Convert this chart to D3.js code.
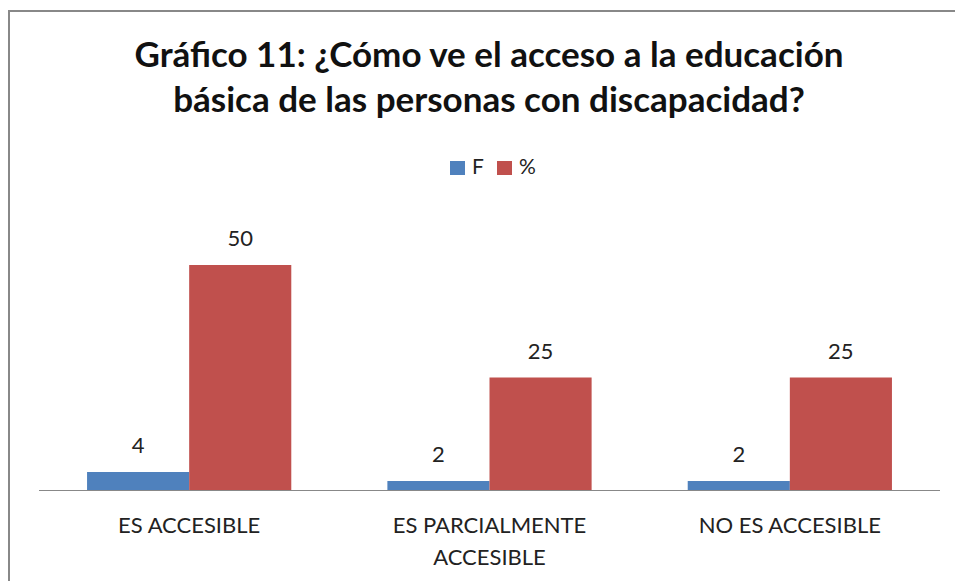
<!DOCTYPE html>
<html>
<head>
<meta charset="utf-8">
<script src="https://cdn.jsdelivr.net/npm/d3@7"></script>
<style>
  body { margin: 0; background: #fff; }
  text { font-family: Lato, "Open Sans", sans-serif; }
</style>
</head>
<body>
<script>
const categories = [["ES ACCESIBLE"], ["ES PARCIALMENTE", "ACCESIBLE"], ["NO ES ACCESIBLE"]];
const seriesNames = ["F", "%"];
const valuesF = [4, 2, 2];
const valuesPct = [50, 25, 25];
const colors = ["#4F81BD", "#C0504D"];

const svgWidth = 955, svgHeight = 581;
const baseY = 490;

const svg = d3.select("body")
    .append("svg")
    .attr("width", svgWidth)
    .attr("height", svgHeight);

// frame
svg.append("rect")
    .attr("x", 9).attr("y", 11)
    .attr("width", 960).attr("height", 600)
    .attr("fill", "#fff")
    .attr("stroke", "#888")
    .attr("stroke-width", 2);

// title
svg.append("text")
    .attr("text-anchor", "middle")
    .attr("font-size", 35)
    .attr("font-weight", "bold")
    .attr("fill", "#111")
    .selectAll("tspan")
    .data(["Gráfico 11: ¿Cómo ve el acceso a la educación", "básica de las personas con discapacidad?"])
    .enter().append("tspan")
    .attr("x", 489)
    .attr("y", (d, i) => 67 + i * 45)
    .text(d => d);

// legend
const legend = svg.append("g");
const legendX = [450, 497];
seriesNames.forEach((s, i) => {
    legend.append("rect")
        .attr("x", legendX[i]).attr("y", 161)
        .attr("width", 15).attr("height", 14)
        .attr("fill", colors[i]);
    legend.append("text")
        .attr("x", legendX[i] + 22).attr("y", 174)
        .attr("font-size", 21)
        .attr("fill", "#222")
        .text(s);
});

const xScale = d3.scaleBand()
    .domain(d3.range(categories.length))
    .range([39, 940])
    .paddingInner(0.32)
    .paddingOuter(0.16);

const xInner = d3.scaleBand()
    .domain([0, 1])
    .range([0, xScale.bandwidth()]);

const yScale = d3.scaleLinear()
    .domain([0, 60])
    .range([baseY, baseY - 270]);

const series = [valuesF, valuesPct];

series.forEach((vals, si) => {
    svg.selectAll(".bar" + si)
        .data(vals)
        .enter()
        .append("rect")
        .attr("x", (d, i) => xScale(i) + xInner(si))
        .attr("y", d => yScale(d))
        .attr("width", xInner.bandwidth())
        .attr("height", d => baseY - yScale(d))
        .attr("fill", colors[si]);

    svg.selectAll(".lbl" + si)
        .data(vals)
        .enter()
        .append("text")
        .attr("x", (d, i) => xScale(i) + xInner(si) + xInner.bandwidth() / 2)
        .attr("y", d => yScale(d) - 19)
        .attr("text-anchor", "middle")
        .attr("font-size", 22)
        .attr("fill", "#222")
        .text(d => d);
});

// axis line
svg.append("line")
    .attr("x1", 39).attr("x2", 940)
    .attr("y1", baseY + 0.5).attr("y2", baseY + 0.5)
    .attr("stroke", "#888")
    .attr("stroke-width", 1);

// category labels
categories.forEach((lines, i) => {
    const t = svg.append("text")
        .attr("text-anchor", "middle")
        .attr("font-size", 22)
        .attr("fill", "#222");
    lines.forEach((ln, j) => {
        t.append("tspan")
            .attr("x", xScale(i) + xScale.bandwidth() / 2)
            .attr("y", 533 + j * 32)
            .text(ln);
    });
});
</script>
</body>
</html>
